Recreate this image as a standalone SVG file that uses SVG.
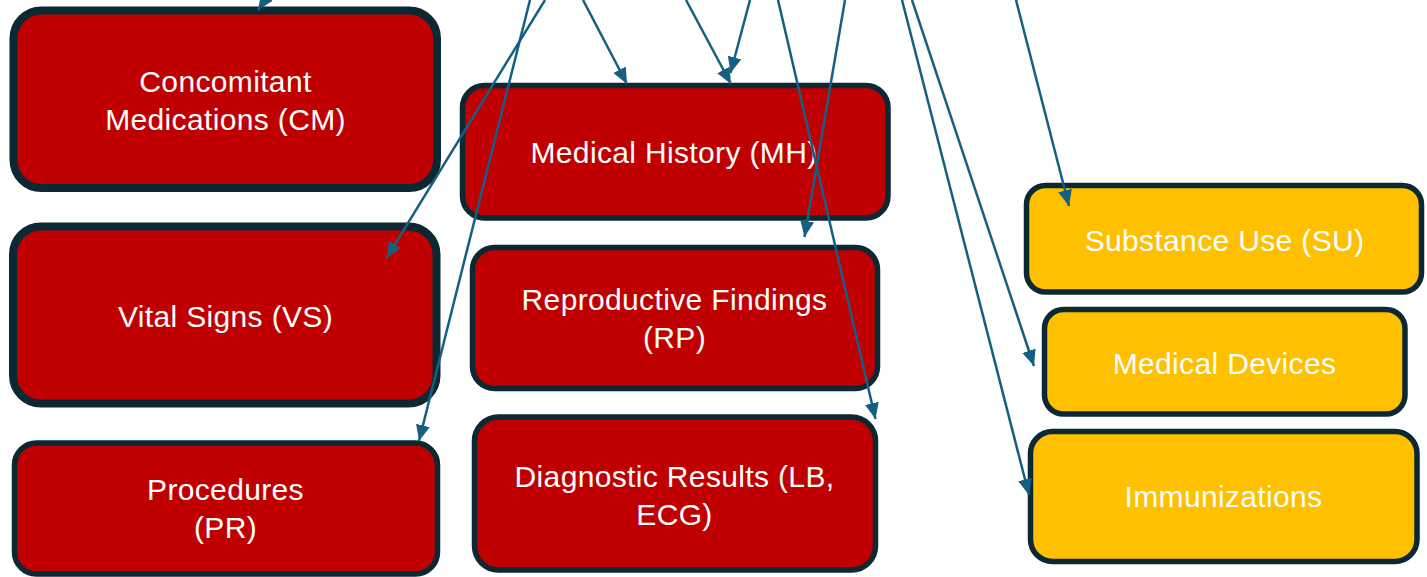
<svg xmlns="http://www.w3.org/2000/svg" width="1427" height="577" viewBox="0 0 1427 577">
  <style>
    .box rect { stroke: #0C2833; }
    .red rect { fill: #C00000; }
    .amber rect { fill: #FFC000; }
    .thick rect { stroke-width: 8; }
    .thin rect { stroke-width: 5.5; }
    text { font-family: "Liberation Sans", Arial, sans-serif; font-size: 30px; letter-spacing: 0.35px; fill: #FFFFFF; text-anchor: middle; }
    .link { stroke: #156082; stroke-width: 2.5; fill: none; marker-end: url(#head); }
  </style>
  <defs>
    <marker id="head" markerUnits="userSpaceOnUse" markerWidth="16" markerHeight="15" refX="16" refY="7" orient="auto">
      <path d="M0,0 L16,7 L0,14 z" fill="#156082"/>
    </marker>
  </defs>

  <!-- left column -->
  <g id="cm" class="box red thick">
    <rect x="13.5" y="10.5" width="423.5" height="177.5" rx="28"/>
    <text x="225.5" y="92">Concomitant</text>
    <text x="225.5" y="130">Medications (CM)</text>
  </g>
  <g id="vs" class="box red thick">
    <rect x="13" y="226.5" width="423.5" height="177" rx="28"/>
    <text x="225.5" y="327">Vital Signs (VS)</text>
  </g>
  <g id="pr" class="box red thin">
    <rect x="14.5" y="443" width="423" height="131" rx="22"/>
    <text x="225.5" y="500">Procedures</text>
    <text x="225.5" y="538">(PR)</text>
  </g>

  <!-- middle column -->
  <g id="mh" class="box red thin">
    <rect x="462.5" y="85.5" width="425.5" height="132.5" rx="22"/>
    <text x="674" y="163">Medical History (MH)</text>
  </g>
  <g id="rp" class="box red thin">
    <rect x="472.5" y="247.5" width="405" height="141" rx="22"/>
    <text x="674.5" y="310">Reproductive Findings</text>
    <text x="674.5" y="348">(RP)</text>
  </g>
  <g id="lb" class="box red thin">
    <rect x="474.5" y="417" width="401" height="153" rx="24"/>
    <text x="674.5" y="487">Diagnostic Results (LB,</text>
    <text x="674.5" y="525">ECG)</text>
  </g>

  <!-- right column -->
  <g id="su" class="box amber thin">
    <rect x="1026.5" y="185.5" width="395" height="106.5" rx="19"/>
    <text x="1224.5" y="251">Substance Use (SU)</text>
  </g>
  <g id="md" class="box amber thin">
    <rect x="1044.5" y="309.5" width="360.5" height="104.5" rx="19"/>
    <text x="1224.5" y="374">Medical Devices</text>
  </g>
  <g id="im" class="box amber thin">
    <rect x="1030.5" y="431.5" width="386.5" height="130" rx="22"/>
    <text x="1223.5" y="507">Immunizations</text>
  </g>

  <!-- connectors entering from above -->
  <g id="connectors">
    <line class="link" x1="275" y1="-15" x2="258" y2="10"/>
    <line class="link" x1="545" y1="0" x2="386.5" y2="258"/>
    <line class="link" x1="530" y1="0" x2="419" y2="441"/>
    <line class="link" x1="583" y1="0" x2="627" y2="84"/>
    <line class="link" x1="686" y1="0" x2="731" y2="84"/>
    <line class="link" x1="750" y1="0" x2="730.5" y2="73"/>
    <line class="link" x1="778" y1="0" x2="875.5" y2="419"/>
    <line class="link" x1="845" y1="0" x2="804.5" y2="237"/>
    <line class="link" x1="902" y1="0" x2="1029" y2="495"/>
    <line class="link" x1="912" y1="0" x2="1034" y2="366"/>
    <line class="link" x1="1016" y1="0" x2="1069" y2="206"/>
  </g>
</svg>
